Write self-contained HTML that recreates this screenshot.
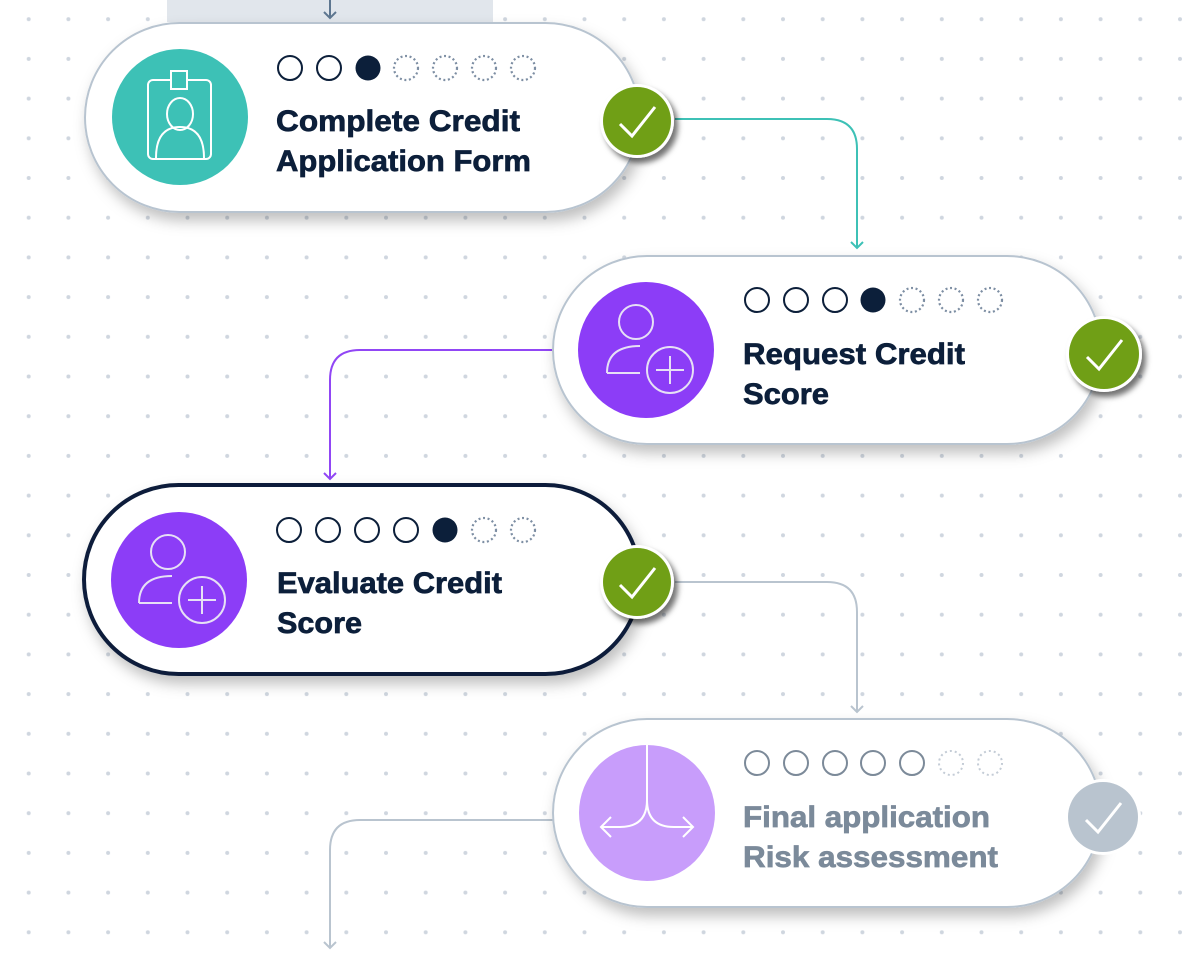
<!DOCTYPE html>
<html><head><meta charset="utf-8"><style>
html,body{margin:0;padding:0;background:#fff;}
svg{display:block;}
text{font-family:"Liberation Sans",sans-serif;font-weight:bold;stroke-width:0.7;}
</style></head><body>
<svg width="1200" height="970" viewBox="0 0 1200 970" xmlns="http://www.w3.org/2000/svg">
<defs>
<pattern id="dots" x="8.85" y="-0.65" width="39.7" height="39.7" patternUnits="userSpaceOnUse">
<circle cx="19.85" cy="19.85" r="2" fill="#cfd6df"/>
</pattern>
<filter id="sh" x="-20%" y="-30%" width="140%" height="170%">
<feDropShadow dx="4" dy="8" stdDeviation="7" flood-color="#000" flood-opacity="0.25"/>
</filter>
<filter id="csh" x="-50%" y="-50%" width="200%" height="200%">
<feDropShadow dx="4" dy="5" stdDeviation="3" flood-color="#000" flood-opacity="0.55"/>
</filter>
</defs>
<rect width="1200" height="970" fill="url(#dots)"/>
<rect x="167" y="0" width="326" height="22" fill="#e1e6ec"/>
<path d="M330 0 V18 M324 12 L330 18 L336 12" stroke="#5d7690" stroke-width="2" fill="none"/>

<path d="M675 119 H827 Q857 119 857 149 V248 M851 242 L857 248 L863 242" stroke="#3dc1b6" stroke-width="2" fill="none"/>
<path d="M553 350 H360 Q330 350 330 380 V479 M324 473 L330 479 L336 473" stroke="#9146f5" stroke-width="2" fill="none"/>
<path d="M675 582 H827 Q857 582 857 612 V712 M851 706 L857 712 L863 706" stroke="#b9c4cf" stroke-width="2" fill="none"/>
<path d="M553 820 H360 Q330 820 330 850 V948 M324 942 L330 948 L336 942" stroke="#b9c4cf" stroke-width="2" fill="none"/>

<rect x="85" y="23" width="555" height="189" rx="94.5" fill="#fff" stroke="#b8c4d0" stroke-width="2" filter="url(#sh)"/>
<circle cx="180" cy="117" r="68" fill="#3dc1b6"/>
<g stroke="#fff" stroke-width="2" fill="none">
<rect x="148" y="80" width="63" height="79" rx="5"/>
<rect x="171" y="71" width="16" height="18" fill="#3dc1b6"/>
<ellipse cx="180" cy="114" rx="13" ry="16"/>
<path d="M156 158 Q156 127 180 127 Q204 127 204 158"/>
</g>
<g stroke="#0c1f3a" stroke-width="2" fill="none">
<circle cx="290" cy="68" r="12"/><circle cx="329" cy="68" r="12"/>
<circle cx="368" cy="68" r="12.5" fill="#0c1f3a" stroke="none"/>
</g>
<g stroke="#7d8ea3" stroke-width="2.2" stroke-dasharray="2 2.6" fill="none">
<circle cx="406" cy="68" r="12"/><circle cx="445" cy="68" r="12"/><circle cx="484" cy="68" r="12"/><circle cx="523" cy="68" r="12"/>
</g>
<text x="276" y="131" font-size="30" fill="#0c1f3a" stroke="#0c1f3a" textLength="244" lengthAdjust="spacingAndGlyphs">Complete Credit</text>
<text x="276" y="171" font-size="30" fill="#0c1f3a" stroke="#0c1f3a" textLength="255" lengthAdjust="spacingAndGlyphs">Application Form</text>
<g filter="url(#csh)"><circle cx="637" cy="121" r="37" fill="#fff"/><circle cx="637" cy="121" r="34" fill="#6f9f14"/></g>
<path d="M620 124 L632 136 L655 107" stroke="#fff" stroke-width="3" fill="none"/>

<rect x="553" y="256" width="548" height="188" rx="94" fill="#fff" stroke="#b8c4d0" stroke-width="2" filter="url(#sh)"/>
<circle cx="646" cy="350" r="68" fill="#8c3df7"/>
<g stroke="#e6e0f5" stroke-width="2" fill="none">
<circle cx="636" cy="322" r="17"/>
<path d="M607 373 Q607 346 640 346 M607 373 H640"/>
<circle cx="670" cy="370" r="23"/>
<path d="M670 356 V384 M656 370 H684"/>
</g>
<g stroke="#0c1f3a" stroke-width="2" fill="none">
<circle cx="757" cy="300" r="12"/><circle cx="796" cy="300" r="12"/><circle cx="835" cy="300" r="12"/>
<circle cx="873" cy="300" r="12.5" fill="#0c1f3a" stroke="none"/>
</g>
<g stroke="#7d8ea3" stroke-width="2.2" stroke-dasharray="2 2.6" fill="none">
<circle cx="912" cy="300" r="12"/><circle cx="951" cy="300" r="12"/><circle cx="990" cy="300" r="12"/>
</g>
<text x="743" y="364" font-size="30" fill="#0c1f3a" stroke="#0c1f3a" textLength="222" lengthAdjust="spacingAndGlyphs">Request Credit</text>
<text x="743" y="404" font-size="30" fill="#0c1f3a" stroke="#0c1f3a" textLength="86" lengthAdjust="spacingAndGlyphs">Score</text>
<g filter="url(#csh)"><circle cx="1104" cy="354" r="38" fill="#fff"/><circle cx="1104" cy="354" r="35" fill="#6f9f14"/></g>
<path d="M1087 357 L1099 369 L1122 340" stroke="#fff" stroke-width="3" fill="none"/>

<rect x="84" y="485" width="556" height="189" rx="94.5" fill="#fff" stroke="#0c1f3a" stroke-width="4" filter="url(#sh)"/>
<circle cx="179" cy="580" r="68" fill="#8c3df7"/>
<g stroke="#e6e0f5" stroke-width="2" fill="none">
<circle cx="168" cy="552" r="17"/>
<path d="M139 603 Q139 576 172 576 M139 603 H172"/>
<circle cx="202" cy="600" r="23"/>
<path d="M202 586 V614 M188 600 H216"/>
</g>
<g stroke="#0c1f3a" stroke-width="2" fill="none">
<circle cx="289" cy="530" r="12"/><circle cx="328" cy="530" r="12"/><circle cx="367" cy="530" r="12"/><circle cx="406" cy="530" r="12"/>
<circle cx="445" cy="530" r="12.5" fill="#0c1f3a" stroke="none"/>
</g>
<g stroke="#7d8ea3" stroke-width="2.2" stroke-dasharray="2 2.6" fill="none">
<circle cx="484" cy="530" r="12"/><circle cx="523" cy="530" r="12"/>
</g>
<text x="277" y="593" font-size="30" fill="#0c1f3a" stroke="#0c1f3a" textLength="225" lengthAdjust="spacingAndGlyphs">Evaluate Credit</text>
<text x="277" y="633" font-size="30" fill="#0c1f3a" stroke="#0c1f3a" textLength="85" lengthAdjust="spacingAndGlyphs">Score</text>
<g filter="url(#csh)"><circle cx="637" cy="582" r="37" fill="#fff"/><circle cx="637" cy="582" r="34" fill="#6f9f14"/></g>
<path d="M620 585 L632 597 L655 568" stroke="#fff" stroke-width="3" fill="none"/>

<rect x="553" y="719" width="548" height="188" rx="94" fill="#fff" stroke="#b8c4d0" stroke-width="2" filter="url(#sh)"/>
<circle cx="647" cy="813" r="68" fill="#c89dfb"/>
<g stroke="#fff" stroke-width="2" fill="none">
<path d="M647 745 V800 Q647 827 620 827 H601 M611 817 L601 827 L611 837"/>
<path d="M647 800 Q647 827 674 827 H693 M683 817 L693 827 L683 837"/>
</g>
<g stroke="#7c8a99" stroke-width="2" fill="none">
<circle cx="757" cy="763" r="12"/><circle cx="796" cy="763" r="12"/><circle cx="835" cy="763" r="12"/><circle cx="873" cy="763" r="12"/><circle cx="912" cy="763" r="12"/>
</g>
<g stroke="#c4ccd6" stroke-width="2" stroke-dasharray="2 3" fill="none">
<circle cx="951" cy="763" r="12"/><circle cx="990" cy="763" r="12"/>
</g>
<text x="743" y="827" font-size="30" fill="#7b8a9a" stroke="#7b8a9a" textLength="247" lengthAdjust="spacingAndGlyphs">Final application</text>
<text x="743" y="867" font-size="30" fill="#7b8a9a" stroke="#7b8a9a" textLength="255" lengthAdjust="spacingAndGlyphs">Risk assessment</text>
<circle cx="1103" cy="817" r="38" fill="#fff"/><circle cx="1103" cy="817" r="35" fill="#b9c4cf"/>
<path d="M1086 820 L1098 832 L1121 803" stroke="#fff" stroke-width="3" fill="none"/>
</svg>
</body></html>
